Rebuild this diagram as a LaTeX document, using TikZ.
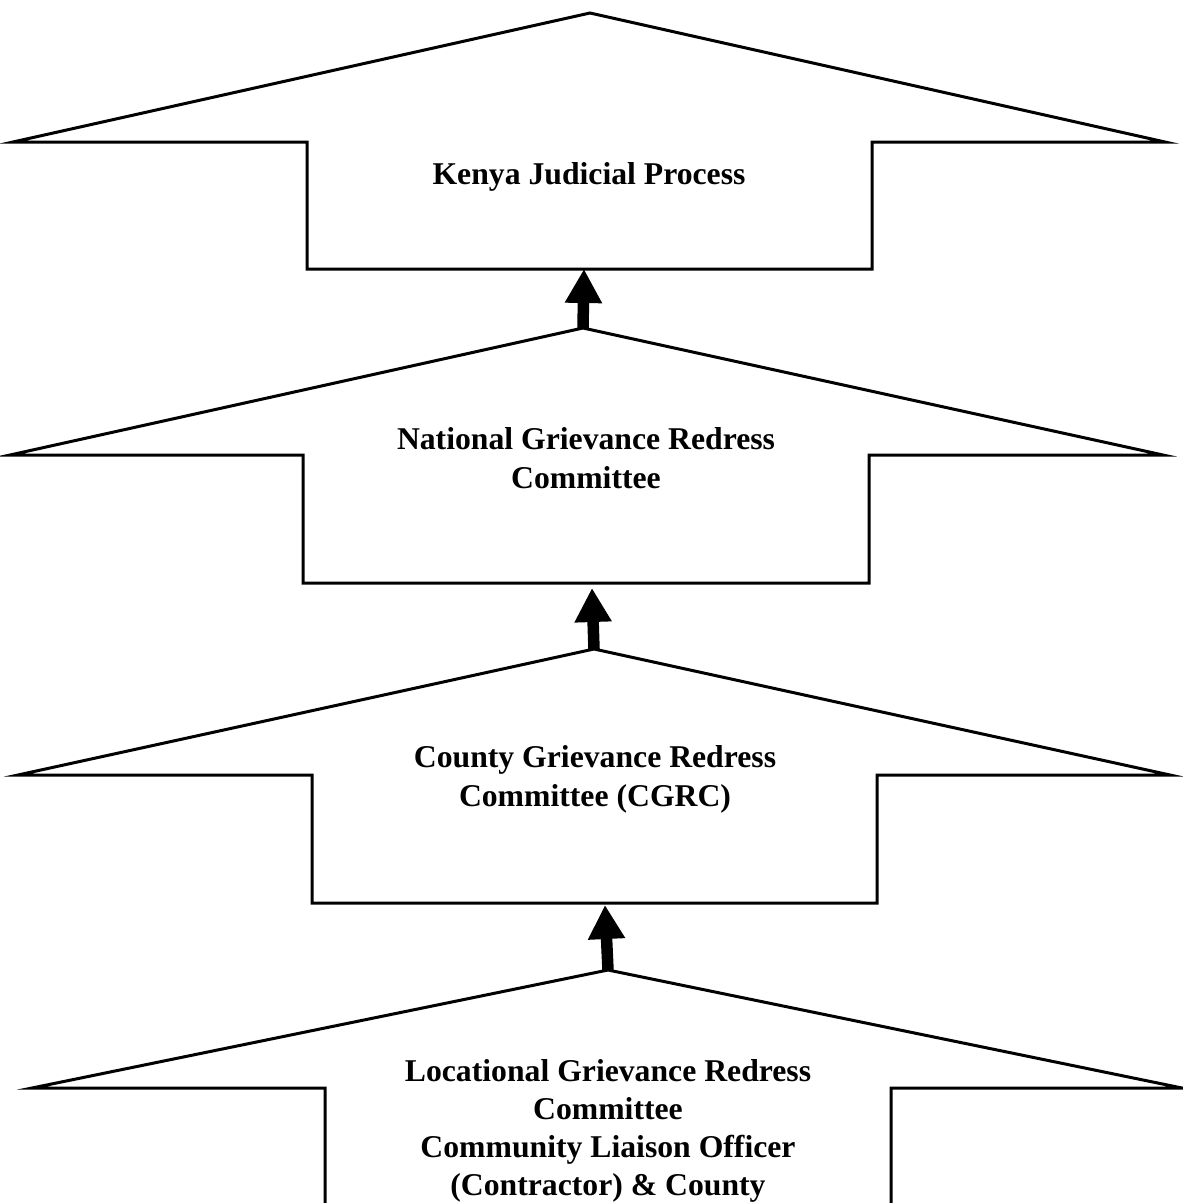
\documentclass[tikz,border=0pt]{standalone}
\usepackage{fontspec}
\setmainfont{Liberation Serif}
\usetikzlibrary{arrows.meta}
\begin{document}
\begin{tikzpicture}[x=1pt,y=-1pt,
  shapeline/.style={draw=black,line width=3pt},
  lbl/.style={font=\bfseries\fontsize{31.7}{39}\selectfont, align=center, inner sep=0pt},
  uparrow/.style={line width=11.5pt, -{Triangle[width=35pt,length=34pt]}}]
\useasboundingbox (0,0) rectangle (1183,1203);
\clip (0,0) rectangle (1183,1203);
% shape 1
\coordinate (s1apex) at (590,13);
\coordinate (s1bot) at (584,269);
\draw[shapeline] (s1apex) -- (1165,142) -- (872,142) -- (872,269) -- (307,269) -- (307,142) -- (13,142) -- cycle;
% shape 2
\coordinate (s2apex) at (583,328);
\coordinate (s2bot) at (592,588);
\draw[shapeline] (s2apex) -- (1163,455) -- (869,455) -- (869,583) -- (303,583) -- (303,455) -- (10,455) -- cycle;
% shape 3
\coordinate (s3apex) at (594,649);
\coordinate (s3bot) at (605,905);
\draw[shapeline] (s3apex) -- (1170,775) -- (877,775) -- (877,903) -- (312,903) -- (312,775) -- (18,775) -- cycle;
% shape 4
\coordinate (s4apex) at (608,970);
\draw[shapeline] (325,1260) -- (325,1088) -- (32,1088) -- (s4apex) -- (1182,1088) -- (891,1088) -- (891,1260);
% labels
\node[lbl] (t1) at (589,177) {Kenya Judicial Process};
\node[lbl] (t2) at (586,458) {National Grievance Redress\\Committee};
\node[lbl] (t3) at (595,779) {County Grievance Redress\\Committee (CGRC)};
\node[lbl, font=\bfseries\fontsize{31.7}{38}\selectfont] (t4) at (608,1131) {Locational Grievance Redress\\Committee\\Community Liaison Officer\\ (Contractor) \& County};
% arrows
\draw[uparrow] (s2apex) -- (s1bot);
\draw[uparrow] (s3apex) -- (s2bot);
\draw[uparrow] (s4apex) -- (s3bot);
\end{tikzpicture}
\end{document}
